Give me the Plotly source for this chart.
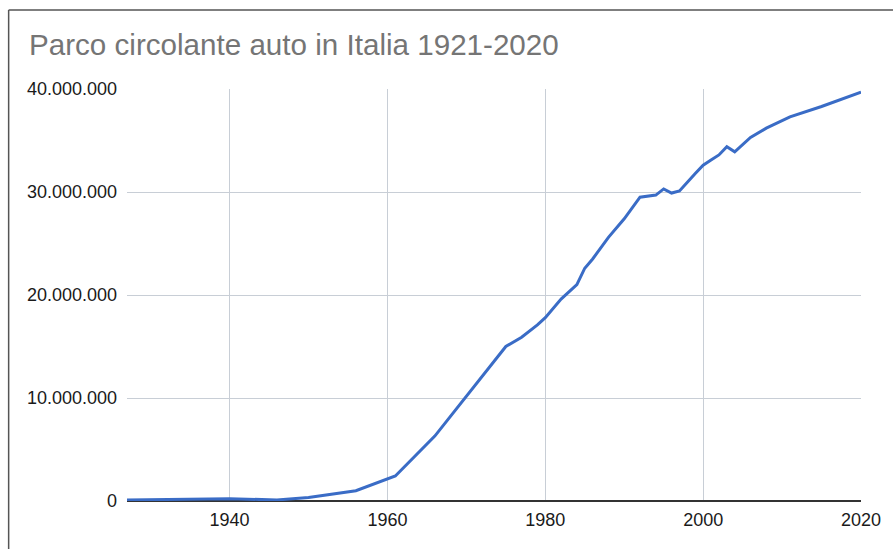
import plotly.graph_objects as go

years = [1927, 1940, 1946, 1950, 1956, 1961, 1966, 1970, 1975, 1977, 1979,
         1980, 1982, 1984, 1985, 1986, 1988, 1990, 1992, 1994, 1995, 1996,
         1997, 1999, 2000, 2001, 2002, 2003, 2004, 2006, 2008, 2011, 2015, 2020]
vehicles = [100000, 220000, 100000, 340000, 1000000, 2430000, 6300000,
            10200000, 15000000, 15900000, 17100000, 17800000, 19600000,
            21000000, 22600000, 23500000, 25600000, 27400000, 29500000,
            29700000, 30300000, 29900000, 30100000, 31800000, 32600000,
            33100000, 33600000, 34400000, 33900000, 35300000, 36200000,
            37300000, 38300000, 39700000]
x_ticks = [1940, 1960, 1980, 2000, 2020]
y_ticks = [0, 10000000, 20000000, 30000000, 40000000]
title_text = "Parco circolante auto in Italia 1921-2020"

W, H = 893, 549
L, R, T, B = 127, 28, 89, 48
pw, ph = W - L - R, H - T - B

fig = go.Figure()
fig.add_trace(go.Scatter(
    x=years, y=vehicles, mode="lines",
    line=dict(color="#3a6cc6", width=3),
    hoverinfo="x+y", showlegend=False,
))

# outer frame (left and top edges visible)
fx = (8 - L) / pw
fy = (H - B - 10) / ph
frame = dict(color="#555555", width=1.5)
fig.add_shape(type="line", xref="paper", yref="paper", x0=fx, x1=fx, y0=-1, y1=fy, line=frame)
fig.add_shape(type="line", xref="paper", yref="paper", x0=fx, x1=2, y0=fy, y1=fy, line=frame)

tick_font = dict(family="Liberation Sans, Arial, sans-serif", size=18, color="#1a1a1a")

fig.update_layout(
    width=W, height=H,
    margin=dict(l=L, r=R, t=T, b=B, pad=0),
    paper_bgcolor="white", plot_bgcolor="white",
    separators=",.",
    title=dict(
        text=title_text, x=29 / W, xanchor="left", xref="container",
        y=1 - 45 / H, yanchor="middle", yref="container",
        font=dict(family="Liberation Sans, Arial, sans-serif", size=29.6, color="#757575"),
    ),
    xaxis=dict(
        range=[1927, 2020], tickvals=x_ticks, ticktext=[str(v) for v in x_ticks],
        showgrid=True, gridcolor="#c8ced6", gridwidth=1,
        showline=False, zeroline=False, ticks="", ticklen=0,
        ticklabelstandoff=6,
        tickfont=tick_font,
    ),
    yaxis=dict(
        range=[0, 40000000], tickvals=y_ticks, tickformat=",d",
        showgrid=True, gridcolor="#c8ced6", gridwidth=1,
        zeroline=True, zerolinecolor="#333333", zerolinewidth=1.5,
        showline=False, ticks="", ticklabelstandoff=9,
        tickfont=tick_font,
    ),
)

fig.write_html("out.html")
